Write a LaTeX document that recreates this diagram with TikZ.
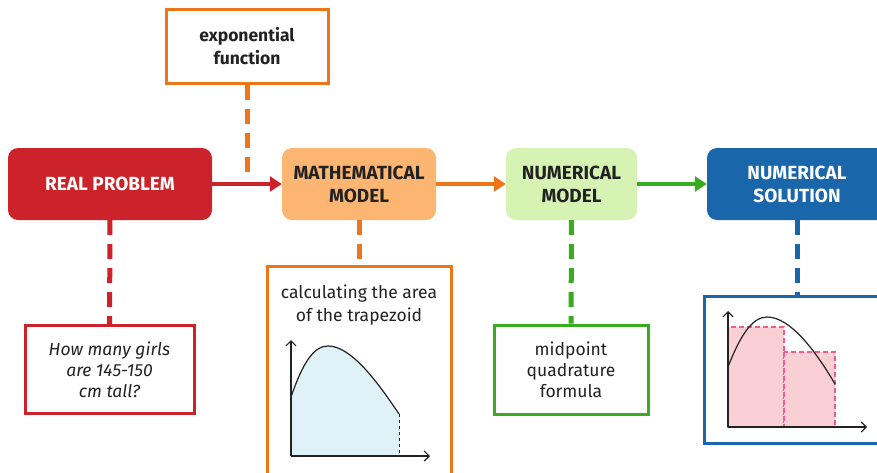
\documentclass[tikz,border=0pt]{standalone}
\usepackage{fontspec}
\setmainfont{Fira Sans}
\usetikzlibrary{arrows.meta}

\definecolor{probred}{HTML}{CC2229}
\definecolor{modorange}{HTML}{EE7518}
\definecolor{modfill}{HTML}{FDB572}
\definecolor{numgreen}{HTML}{3AAA1E}
\definecolor{numfill}{HTML}{D6F3B4}
\definecolor{solblue}{HTML}{1A66AA}
\definecolor{areafill}{HTML}{DFF2F7}
\definecolor{barfill}{HTML}{FBD0D5}
\definecolor{barline}{HTML}{F05C91}
\definecolor{ink}{HTML}{222222}

\tikzset{
  stage/.style={rounded corners=10pt, minimum height=72pt, align=center,
    font=\bfseries\fontsize{19}{23}\selectfont},
  infobox/.style={draw, line width=3pt, fill=white, align=center, text=ink,
    font=\fontsize{17.5}{21}\selectfont},
  link/.style={line width=5pt, dash pattern=on 15pt off 9pt},
  flow/.style={line width=4pt, -{Triangle[length=12pt,width=15pt]}},
  axis/.style={line width=1.2pt, ink, -{Straight Barb[length=5pt,width=10pt]}}
}

\begin{document}
\begin{tikzpicture}[x=1pt, y=-1pt]

  \useasboundingbox (0,0) rectangle (877,472);
  \clip (0,0) rectangle (877,472);

  % Main stages
  \node[stage, fill=probred, text=white, minimum width=204pt] (real) at (110,184) {REAL PROBLEM};
  \node[stage, fill=modfill, text=ink, minimum width=154pt] (math) at (359,184) {MATHEMATICAL\\MODEL};
  \node[stage, fill=numfill, text=ink, minimum width=131pt] (nummod) at (571.5,184) {NUMERICAL\\MODEL};
  \node[stage, fill=solblue, text=white, minimum width=180pt] (numsol) at (797,184) {NUMERICAL\\SOLUTION};

  \draw[flow, probred] (real) -- (math);
  \draw[flow, modorange] (math) -- (nummod);
  \draw[flow, numgreen] (nummod) -- (numsol);

  % Boxes above and below
  \node[infobox, draw=modorange, minimum width=162pt, minimum height=74pt,
    font=\bfseries\fontsize{17.5}{23}\selectfont] (expo) at (247,46) {exponential\\function};
  \coordinate (expoend) at (247,176);
  \node[infobox, draw=probred, minimum width=169pt, minimum height=88pt,
    font=\itshape\fontsize{17.5}{21}\selectfont] (girls) at (109.5,369.5) {How many girls\\are 145-150\\cm tall?};
  \node[infobox, draw=modorange, minimum width=184pt, minimum height=208pt] (area) at (359,370) {};
  \node[infobox, draw=numgreen, minimum width=154pt, minimum height=89pt] (midpt) at (571,369.5) {midpoint\\quadrature\\formula};
  \node[infobox, draw=solblue, minimum width=186pt, minimum height=147pt] (bars) at (797,369.5) {};
  \node[align=center, text=ink, font=\fontsize{17.5}{23}\selectfont] (areatext) at (359,305) {calculating the area\\of the trapezoid};

  \draw[link, modorange] (expo) -- (expoend);
  \draw[link, probred] (real) -- (girls);
  \draw[link, modorange] (math) -- (area);
  \draw[link, numgreen] (nummod) -- (midpt);
  \draw[link, solblue] (numsol) -- (bars);

  % Area under the curve
  \fill[areafill] (291,397) .. controls (303,362) and (314,346) .. (328,346)
    .. controls (350,346) and (375,378) .. (399,414) -- (399,456) -- (291,456) -- cycle;
  \draw[line width=1.2pt, ink] (291,397) .. controls (303,362) and (314,346) .. (328,346)
    .. controls (350,346) and (375,378) .. (399,414);
  \draw[line width=1pt, ink, dashed] (399,414) -- (399,456);
  \draw[axis] (291,456) -- (291,340);
  \draw[axis] (291,456) -- (430,456);

  % Midpoint bars
  \foreach \xa/\xb/\top in {728/784/327, 784/835/352}{
    \filldraw[fill=barfill, draw=barline, line width=1.3pt, dash pattern=on 5pt off 3pt] (\xa,\top) rectangle (\xb,427);
  }
  \draw[line width=1.2pt, ink] (728,367) .. controls (740,336) and (752,317) .. (767,317)
    .. controls (790,317) and (815,350) .. (835,384);
  \draw[axis] (728,427) -- (728,311);
  \draw[axis] (728,427) -- (867,427);

\end{tikzpicture}
\end{document}
